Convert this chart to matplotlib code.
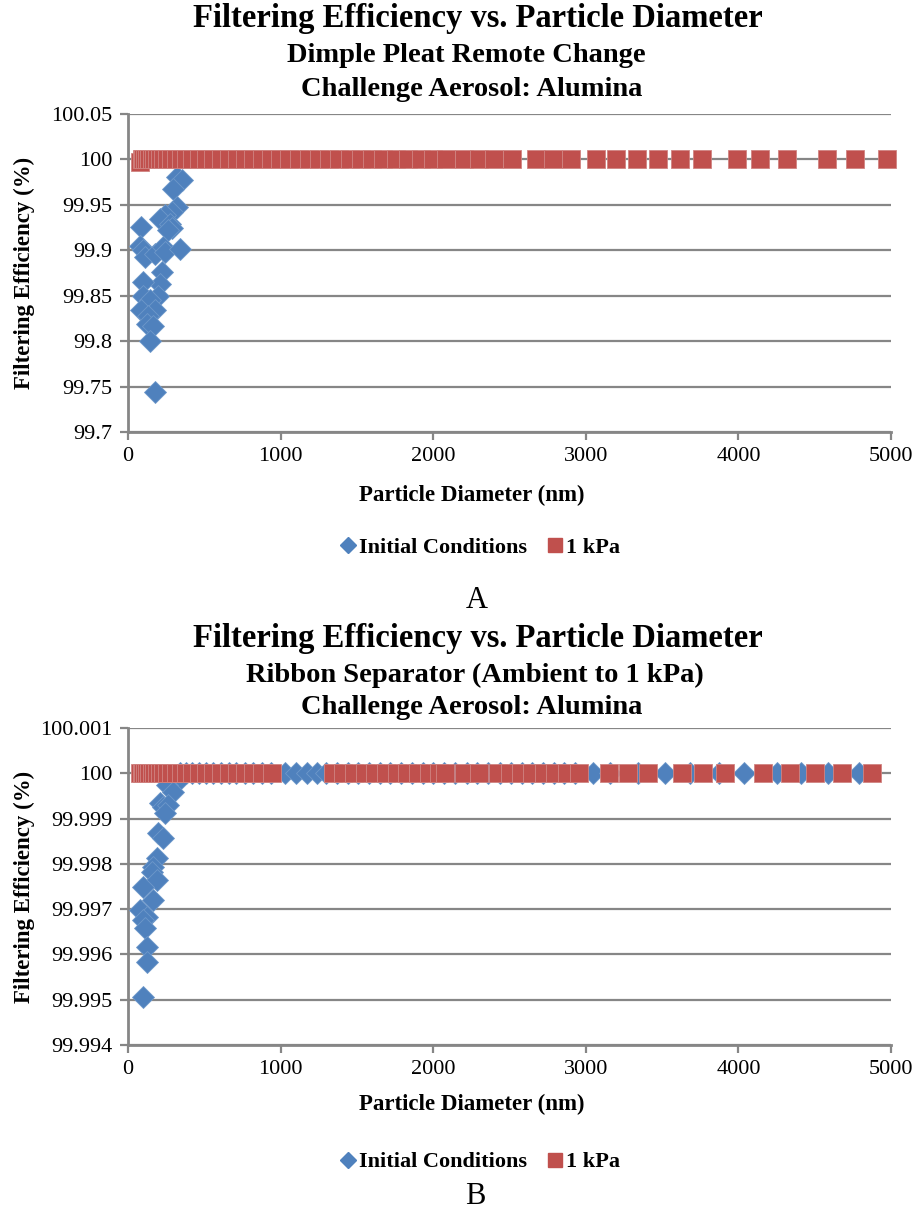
import matplotlib
matplotlib.use("Agg")
import matplotlib.pyplot as plt
from matplotlib.lines import Line2D

plt.rcParams['font.family'] = ['Liberation Serif', 'DejaVu Serif']

# ---- data ----
# Panel A: Dimple Pleat Remote Change
size_a_init = [323, 352, 297, 319, 286, 242, 210, 275, 286, 264,
               88, 79, 100, 111, 177, 231, 242, 341, 221, 210,
               96, 100, 199, 144, 88, 177, 133, 122, 166, 144, 177]
eff_a_init = [99.981, 99.977, 99.968, 99.948, 99.942, 99.9385, 99.934, 99.929, 99.925, 99.922,
              99.926, 99.905, 99.900, 99.893, 99.896, 99.904, 99.898, 99.901, 99.876, 99.863,
              99.865, 99.850, 99.850, 99.845, 99.834, 99.834, 99.828, 99.819, 99.817, 99.800, 99.744]

size_a_1kpa = [80, 90, 100, 112, 125, 140, 155, 172, 190, 210, 232, 256, 283, 312, 345,
               381, 420, 464, 512, 560, 610, 660, 712, 765, 820, 877, 935, 995, 1057, 1120,
               1185, 1250, 1317, 1385, 1455, 1526, 1598, 1671, 1754, 1835, 1918, 1999, 2082,
               2202, 2301, 2398, 2518, 2674, 2783, 2901, 3067, 3196, 3333, 3475, 3615, 3759,
               3991, 4144, 4319, 4579, 4767, 4972]
eff_a_1kpa = [99.997] + [100.0] * (len(size_a_1kpa) - 1)

# Panel B: Ribbon Separator
size_b_init_low = [319, 254, 297, 210, 231, 264, 242, 199, 231, 188,
                   166, 155, 188, 100, 166, 79, 122, 100, 111, 122, 122, 100]
eff_b_init_low = [99.99981, 99.99974, 99.99959, 99.99934, 99.99926, 99.9993, 99.99912, 99.99868,
                  99.99857, 99.99812, 99.99794, 99.99783, 99.99764, 99.9975, 99.9972, 99.99698,
                  99.99683, 99.99676, 99.99658, 99.99617, 99.99584, 99.99507]
size_b_init_100 = [340, 380, 420, 465, 510, 560, 610, 660, 710, 765, 820, 880, 940,
                   1030, 1100, 1170, 1240, 1300, 1370, 1440, 1510, 1580, 1650, 1720, 1790,
                   1860, 1930, 2000, 2070, 2143, 2220, 2290, 2361, 2440, 2510, 2580, 2650,
                   2720, 2790, 2860, 2930, 3050, 3160, 3340, 3519, 3680, 3870, 4037, 4250,
                   4410, 4590, 4790]
eff_b_init_100 = [100.0] * len(size_b_init_100)

size_b_1kpa = [80, 90, 100, 112, 125, 140, 155, 172, 190, 210, 232, 256, 283, 312, 345,
               381, 420, 464, 512, 560, 610, 660, 712, 765, 820, 877, 944,
               1343, 1410, 1480, 1550, 1620, 1690, 1760, 1830, 1900, 1970, 2040, 2080,
               2205, 2298, 2424, 2500, 2575, 2650, 2725, 2800, 2880, 2955,
               3152, 3277, 3408, 3633, 3770, 3912, 4163, 4338, 4502, 4677, 4873]
eff_b_1kpa = [100.0] * len(size_b_1kpa)

a_yticks = [99.7, 99.75, 99.8, 99.85, 99.9, 99.95, 100.0, 100.05]
a_ylabels = ['99.7', '99.75', '99.8', '99.85', '99.9', '99.95', '100', '100.05']
b_yticks = [99.994, 99.995, 99.996, 99.997, 99.998, 99.999, 100.0, 100.001]
b_ylabels = ['99.994', '99.995', '99.996', '99.997', '99.998', '99.999', '100', '100.001']
xticks = [0, 1000, 2000, 3000, 4000, 5000]

BLUE = '#4F81BD'
RED = '#C0504D'
GRAY = '#868686'
W, H = 917, 1213


def fx(p):
    return p / W


def fy(p):
    return 1 - p / H


fig = plt.figure(figsize=(W / 100, H / 100), dpi=100)


def setup(ax, yticks, ylabels):
    ax.set_xlim(0, 5000)
    ax.set_ylim(yticks[0], yticks[-1])
    ax.set_xticks(xticks)
    ax.set_xticklabels([str(t) for t in xticks])
    ax.set_yticks(yticks)
    ax.set_yticklabels(ylabels)
    ax.yaxis.grid(True, color=GRAY, lw=1.6)
    ax.set_axisbelow(True)
    for s in ['top', 'right']:
        ax.spines[s].set_visible(False)
    for s in ['left', 'bottom']:
        ax.spines[s].set_color(GRAY)
        ax.spines[s].set_linewidth(2)
    ax.tick_params(direction='out', length=6, width=1.6, color=GRAY, labelsize=16, pad=5)


def draw(ax, xi, yi, xr, yr):
    ax.plot(xi, yi, ls='none', marker='D', ms=11, color=BLUE, mec='#6E98CA', mew=0.6,
            clip_on=False, zorder=3)
    ax.plot(xr, yr, ls='none', marker='s', ms=13, color=RED, mec='#D08482', mew=0.6,
            clip_on=False, zorder=4)


ax1 = fig.add_axes([fx(128), fy(432), fx(891) - fx(128), (432 - 114) / H])
setup(ax1, a_yticks, a_ylabels)
draw(ax1, size_a_init, eff_a_init, size_a_1kpa, eff_a_1kpa)

ax2 = fig.add_axes([fx(128), fy(1045), fx(891) - fx(128), (1045 - 728) / H])
setup(ax2, b_yticks, b_ylabels)
draw(ax2, size_b_init_100 + size_b_init_low, eff_b_init_100 + eff_b_init_low,
     size_b_1kpa, eff_b_1kpa)

# titles
bold = dict(ha='center', va='center', weight='bold')
fig.text(fx(478), fy(19), 'Filtering Efficiency vs. Particle Diameter', fontsize=23.5, **bold)
fig.text(fx(466), fy(56), 'Dimple Pleat Remote Change', fontsize=20.5, **bold)
fig.text(fx(472), fy(89), 'Challenge Aerosol: Alumina', fontsize=20.5, **bold)

fig.text(fx(478), fy(639), 'Filtering Efficiency vs. Particle Diameter', fontsize=23.5, **bold)
fig.text(fx(475), fy(675), 'Ribbon Separator (Ambient to 1 kPa)', fontsize=20.5, **bold)
fig.text(fx(472), fy(707), 'Challenge Aerosol: Alumina', fontsize=20.5, **bold)

# axis labels
for yc in [273, 887]:
    fig.text(fx(24), fy(yc), 'Filtering Efficiency (%)', rotation=90, fontsize=16.5, **bold)
fig.text(fx(472), fy(495), 'Particle Diameter (nm)', fontsize=16.5, **bold)
fig.text(fx(472), fy(1104), 'Particle Diameter (nm)', fontsize=16.5, **bold)

# legends
handles = [Line2D([], [], ls='none', marker='D', ms=8, color=BLUE),
           Line2D([], [], ls='none', marker='s', ms=10, color=RED)]
labels = ['Initial Conditions', '1 kPa']
for yc in [548, 1162]:
    fig.legend(handles, labels, loc='center', bbox_to_anchor=(fx(480), fy(yc)), ncol=2,
               frameon=False, prop={'size': 16, 'weight': 'bold'}, handlelength=0.7,
               handletextpad=0.15, columnspacing=0.9)

# panel letters
fig.text(fx(477), fy(600), 'A', fontsize=22, ha='center', va='center')
fig.text(fx(475), fy(1196), 'B', fontsize=22, ha='center', va='center')

fig.savefig('out.png', dpi=100)
